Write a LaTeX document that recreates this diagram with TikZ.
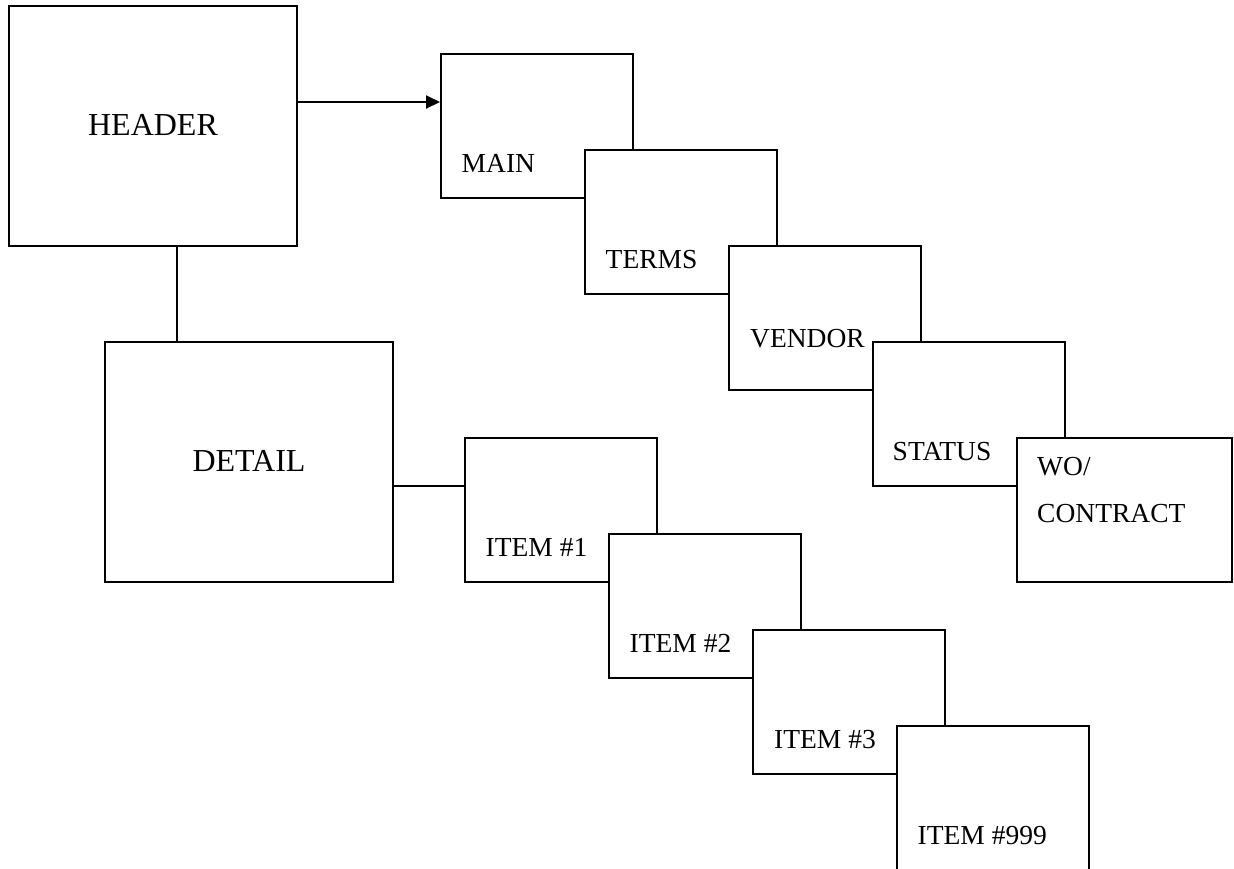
\documentclass[tikz,border=0pt]{standalone}
\usepackage{fontspec}
\setmainfont{Liberation Serif}
\usetikzlibrary{arrows.meta}

\tikzset{
  box/.style={draw=black, fill=white, line width=2pt, rectangle, inner sep=0pt},
  bigbox/.style={box, minimum width=288pt, minimum height=239.5pt},
  smallbox/.style={box, minimum width=192pt, minimum height=143.5pt},
  widebox/.style={box, minimum width=215pt, minimum height=143.5pt},
  bigtext/.style={inner sep=0pt, anchor=base, font=\fontsize{32}{38}\selectfont},
  boxtext/.style={inner sep=0pt, anchor=base west, font=\fontsize{27.5}{33}\selectfont},
  itemtext/.style={inner sep=0pt, anchor=base west, font=\fontsize{27.5}{33}\selectfont},
  link/.style={draw=black, line width=2pt},
}

\begin{document}
\begin{tikzpicture}[x=1pt, y=-1pt]
  \useasboundingbox (0,0) rectangle (1234,868);

  % top-level records
  \node[bigbox] (header) at (153,125.75) {};
  \node[bigtext] (headerlbl) at (153,135) {HEADER};
  \node[bigbox] (detail) at (249,461.75) {};
  \node[bigtext] (detaillbl) at (249,471) {DETAIL};

  % header sections, stacked diagonally
  \node[smallbox] (main) at (537,125.75) {};
  \node[boxtext] (mainlbl) at (461.5,172) {MAIN};
  \node[smallbox] (terms) at (681,221.75) {};
  \node[boxtext] (termslbl) at (605.5,268) {TERMS};
  \node[smallbox] (vendor) at (825,318) {};
  \node[boxtext] (vendorlbl) at (750,347) {VENDOR};
  \node[smallbox] (status) at (969,414) {};
  \node[boxtext] (statuslbl) at (892.5,460) {STATUS};
  \node[widebox] (wo) at (1124.5,509.75) {};
  \node[boxtext] (wolbl) at (1037,475) {WO/};
  \node[boxtext] (contractlbl) at (1037,522) {CONTRACT};

  % detail items, stacked diagonally
  \node[smallbox] (item1) at (561,509.75) {};
  \node[itemtext] (item1lbl) at (485.5,556.5) {ITEM \#1};
  \node[smallbox] (item2) at (705,605.75) {};
  \node[itemtext] (item2lbl) at (629.5,652.5) {ITEM \#2};
  \node[smallbox] (item3) at (849,701.75) {};
  \node[itemtext] (item3lbl) at (774,748.5) {ITEM \#3};
  \node[smallbox] (item999) at (993,797.75) {};
  \node[itemtext] (item999lbl) at (917.5,844) {ITEM \#999};

  % connectors
  \coordinate (arrowy) at (0,102);
  \coordinate (downx) at (177,0);
  \coordinate (itemy) at (0,485.5);
  \draw[link, -{Triangle[length=14pt,width=13pt]}] (header.east |- arrowy) -- (main.west |- arrowy);
  \draw[link] (header.south -| downx) -- (detail.north -| downx);
  \draw[link] (detail.east |- itemy) -- (item1.west |- itemy);
\end{tikzpicture}
\end{document}
